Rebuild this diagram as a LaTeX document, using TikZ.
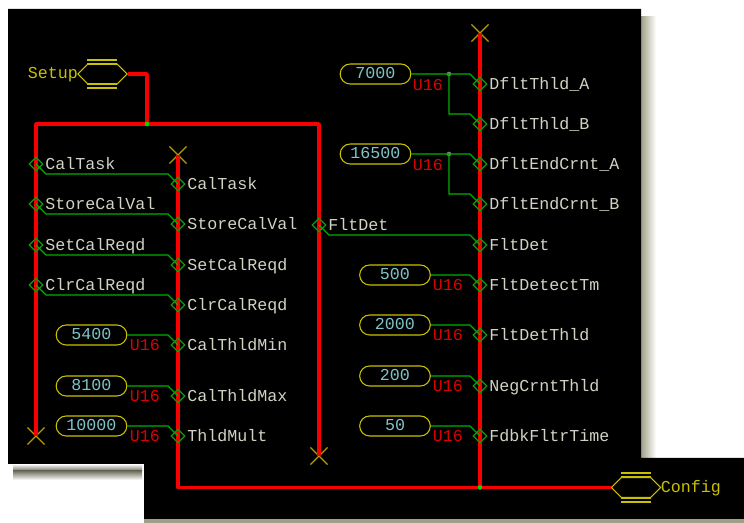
\documentclass[tikz,border=0pt]{standalone}
\usepackage{fontspec}
\setmonofont{Liberation Mono}
\usetikzlibrary{calc, shapes.geometric, shapes.misc, shapes.symbols}

\definecolor{busred}{HTML}{F80000}
\definecolor{wiregreen}{HTML}{00B000}
\definecolor{pingreen}{HTML}{109A10}
\definecolor{capyellow}{HTML}{C8C000}
\definecolor{markyellow}{HTML}{B89A00}
\definecolor{pintext}{HTML}{D2D2C4}
\definecolor{valcyan}{HTML}{80C4C8}
\definecolor{shadeolive}{HTML}{A0A088}

\tikzset{
    chartfont/.style={font=\fontsize{12.5}{14}\ttfamily, text height=8pt, text depth=1pt, inner sep=0pt},
    pin/.style={shape=diamond, draw=pingreen, line width=1pt, minimum size=10.5pt, inner sep=0pt},
    pinname/.style={chartfont, anchor=west, text=pintext},
    capname/.style={chartfont, text=capyellow},
    unitname/.style={chartfont, text=red!85!black},
    constbox/.style={shape=rounded rectangle, draw=capyellow, line width=0.8pt, chartfont, text=valcyan,
                     minimum width=53pt, minimum height=15pt},
    portbox/.style={shape=signal, signal to=west and east, signal pointer angle=90,
                    draw=capyellow, line width=0.8pt, minimum width=37pt, minimum height=15pt, inner sep=0pt},
    endmark/.style={shape=cross out, draw=markyellow, line width=0.9pt, minimum size=12pt, inner sep=0pt},
    dotmark/.style={shape=circle, inner sep=0pt, minimum size=3.5pt},
    bus/.style={draw=busred, line width=2.7pt, line join=round},
    wire/.style={draw=wiregreen, line width=1pt},
    pinwire/.style={wire, to path={-- ++(10,10) -- ($(\tikztotarget)+(-10,-10)$) -- (\tikztotarget)}},
    constwire/.style={wire, to path={-- ($(\tikztotarget)+(-10,-10)$) -- (\tikztotarget)}},
    bar/.style={draw=capyellow, line width=0.8pt}
}

\begin{document}
\begin{tikzpicture}[x=0.75pt, y=-0.75pt]
\useasboundingbox (0,0) rectangle (744,523);
\fill[white] (0,0) rectangle (744,523);

% shadows and sheets
\shade[left color=shadeolive, right color=white] (641,17) rectangle (656,458);
\shade[top color=white, bottom color=shadeolive!70!black] (13,464) rectangle (142,471);
\shade[top color=shadeolive!70!black, bottom color=white] (13,471) rectangle (142,480);
\fill[shadeolive] (144,519) rectangle (744,523);
\fill[black] (8,9) -- (641,9) -- (641,458) -- (744,458) -- (744,519) -- (144,519) -- (144,464) -- (8,464) -- cycle;

% off page connectors
\node (setup) at (102.5,74) [portbox] {};
\node (setuptext) at (53,74) [capname] {Setup};
\node (config) at (636,487.5) [portbox] {};
\node (configtext) at (691,488) [capname] {Config};
\draw[bar] (87,60) -- (117,60) (87,64) -- (117,64) (87,84) -- (117,84) (87,88) -- (117,88);
\draw[bar] (621,473) -- (651,473) (621,477) -- (651,477) (621,498) -- (651,498) (621,502) -- (651,502);

% bus ends
\node (endleft) at (36,436) [endmark] {};
\node (endcal) at (178,155) [endmark] {};
\node (enddet) at (319,456) [endmark] {};
\node (endcfg) at (480,33) [endmark] {};
\coordinate (topleft) at (36,124);
\coordinate (topright) at (319,124);
\coordinate (setupturn) at (147,74);
\coordinate (topjoin) at (147,124);
\coordinate (botleft) at (178,487.5);
\coordinate (botjoin) at (480,487.5);

% buses
\draw[bus] (endleft.center) -- (topleft) -- (topright) -- (enddet.center);
\draw[bus] (setup.east) -- (setupturn) -- (topjoin);
\draw[bus] (endcal.center) -- (botleft) -- (config.west);
\draw[bus] (endcfg.center) -- (botjoin);
\node (joina) at (topjoin) [dotmark, fill=green!85!black] {};
\node (joinb) at (botjoin) [dotmark, fill=green!85!black] {};

% left bus pins
\node (lcal) at (36,164) [pin] {};
\node (lstore) at (36,204) [pin] {};
\node (lset) at (36,245) [pin] {};
\node (lclr) at (36,285) [pin] {};
\node (lcaltext) at (45,165) [pinname] {CalTask};
\node (lstoretext) at (45,205) [pinname] {StoreCalVal};
\node (lsettext) at (45,246) [pinname] {SetCalReqd};
\node (lclrtext) at (45,286) [pinname] {ClrCalReqd};

% middle bus pins
\node (mcal) at (178,184) [pin] {};
\node (mstore) at (178,224) [pin] {};
\node (mset) at (178,265) [pin] {};
\node (mclr) at (178,305) [pin] {};
\node (mmin) at (178,345) [pin] {};
\node (mmax) at (178,396) [pin] {};
\node (mmult) at (178,436) [pin] {};
\node (mcaltext) at (187,185) [pinname] {CalTask};
\node (mstoretext) at (187,225) [pinname] {StoreCalVal};
\node (msettext) at (187,266) [pinname] {SetCalReqd};
\node (mclrtext) at (187,306) [pinname] {ClrCalReqd};
\node (mmintext) at (187,346) [pinname] {CalThldMin};
\node (mmaxtext) at (187,397) [pinname] {CalThldMax};
\node (mmulttext) at (187,437) [pinname] {ThldMult};

% fault detect pin
\node (ldet) at (319,225) [pin] {};
\node (ldettext) at (328,226) [pinname] {FltDet};

% right bus pins
\node (rtha) at (480,84) [pin] {};
\node (rthb) at (480,124) [pin] {};
\node (renda) at (480,164) [pin] {};
\node (rendb) at (480,204) [pin] {};
\node (rdet) at (480,245) [pin] {};
\node (rtm) at (480,285) [pin] {};
\node (rthld) at (480,335) [pin] {};
\node (rneg) at (480,386) [pin] {};
\node (rfdbk) at (480,436) [pin] {};
\node (rthatext) at (489,85) [pinname] {DfltThld\_A};
\node (rthbtext) at (489,125) [pinname] {DfltThld\_B};
\node (rendatext) at (489,165) [pinname] {DfltEndCrnt\_A};
\node (rendbtext) at (489,205) [pinname] {DfltEndCrnt\_B};
\node (rdettext) at (489,246) [pinname] {FltDet};
\node (rtmtext) at (489,286) [pinname] {FltDetectTm};
\node (rthldtext) at (489,336) [pinname] {FltDetThld};
\node (rnegtext) at (489,387) [pinname] {NegCrntThld};
\node (rfdbktext) at (489,437) [pinname] {FdbkFltrTime};

% constants
\node (cmin) at (91.5,335) [constbox] {5400};
\node (cmax) at (91.5,386) [constbox] {8100};
\node (cmult) at (91.5,426) [constbox] {10000};
\node (ctha) at (375.5,74) [constbox] {7000};
\node (cend) at (375.5,154) [constbox] {16500};
\node (ctm) at (395,275) [constbox] {500};
\node (cthld) at (395,325) [constbox] {2000};
\node (cneg) at (395,376) [constbox] {200};
\node (cfdbk) at (395,426) [constbox] {50};

% unit labels
\node (umin) at (145,346) [unitname] {U16};
\node (umax) at (145,397) [unitname] {U16};
\node (umult) at (145,437) [unitname] {U16};
\node (utha) at (428,86) [unitname] {U16};
\node (uend) at (428,166) [unitname] {U16};
\node (utm) at (448,286) [unitname] {U16};
\node (uthld) at (448,336) [unitname] {U16};
\node (uneg) at (448,387) [unitname] {U16};
\node (ufdbk) at (448,437) [unitname] {U16};

% branch points
\node (brtha) at (449,74) [dotmark, fill=gray] {};
\node (brend) at (449,154) [dotmark, fill=gray] {};

% wires
\path [pinwire] (lcal.center) to (mcal.center);
\path [pinwire] (lstore.center) to (mstore.center);
\path [pinwire] (lset.center) to (mset.center);
\path [pinwire] (lclr.center) to (mclr.center);
\path [pinwire] (ldet.center) to (rdet.center);
\path [constwire] (cmin.east) to (mmin.center);
\path [constwire] (cmax.east) to (mmax.center);
\path [constwire] (cmult.east) to (mmult.center);
\path [constwire] (ctha.east) to (rtha.center);
\path [constwire] (cend.east) to (renda.center);
\path [constwire] (ctm.east) to (rtm.center);
\path [constwire] (cthld.east) to (rthld.center);
\path [constwire] (cneg.east) to (rneg.center);
\path [constwire] (cfdbk.east) to (rfdbk.center);
\path [wire] (brtha.center) |- ($(rthb.center)+(-10,-10)$) -- (rthb.center);
\path [wire] (brend.center) |- ($(rendb.center)+(-10,-10)$) -- (rendb.center);
\end{tikzpicture}
\end{document}
